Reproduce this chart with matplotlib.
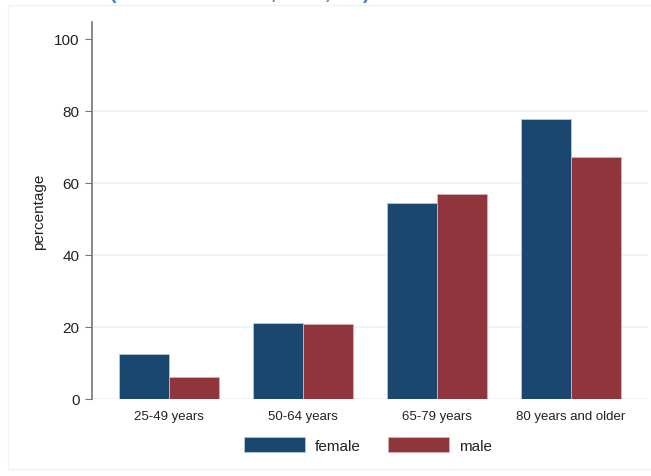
import matplotlib
matplotlib.use('Agg')
from matplotlib import pyplot as plt
from matplotlib.patches import Rectangle
import numpy as np

plt.rcParams['font.family'] = ['Liberation Sans', 'DejaVu Sans']

# data
age_groups = ['25-49 years', '50-64 years', '65-79 years', '80 years and older']
female = [12.5, 21.1, 54.4, 77.7]
male = [6.1, 20.7, 56.9, 67.3]
y_ticks = [0, 20, 40, 60, 80, 100]

female_color = '#1a476f'
male_color = '#90353b'
text_color = '#222222'

fig = plt.figure(figsize=(6.51, 4.77), dpi=100)
ax = fig.add_axes([92 / 651, 77 / 477, 556 / 651, 377 / 477])

x = np.arange(len(age_groups))
w = 0.375
ax.bar(x - w / 2, female, w, color=female_color, edgecolor='#b8c6d4', linewidth=0.6, label='female', zorder=3)
ax.bar(x + w / 2, male, w, color=male_color, edgecolor='#d9b3b6', linewidth=0.6, label='male', zorder=3)

ax.set_xlim(-0.575, 3.575)
ax.set_ylim(0, 104.7)
ax.set_xticks(x)
ax.set_xticklabels(age_groups, fontsize=9.5, color=text_color)
ax.tick_params(axis='x', length=0, pad=8)
ax.set_yticks(y_ticks)
ax.tick_params(axis='y', labelsize=11, labelcolor=text_color, length=5, width=0.8, color='#777777', pad=4)
ax.set_ylabel('percentage', fontsize=11, color=text_color, labelpad=6)

for v in [0, 20, 40, 60, 80]:
    ax.axhline(v, color='#eaf2f3', linewidth=1.2, zorder=1)

for s in ['top', 'right', 'bottom']:
    ax.spines[s].set_visible(False)
ax.spines['left'].set_color('#777777')
ax.spines['left'].set_linewidth(1.2)

handles, labels = ax.get_legend_handles_labels()
fig.legend(handles, labels, loc='center', bbox_to_anchor=(368 / 651, 1 - 446 / 477),
           ncol=2, frameon=False, fontsize=11, handlelength=4.0, handleheight=1.05,
           handletextpad=0.65, columnspacing=1.75, labelcolor=text_color)

# faint outer frame
fig.patches.append(Rectangle((8 / 651, 7 / 477), 650 / 651, 464 / 477, transform=fig.transFigure,
                             fill=False, edgecolor='#f3f3f3', linewidth=1))

# title cut off at the top of the image, only the lowest strokes show
fig.text(110 / 651, 1.0 + 1 / 477, '(Women and Men, 2018, EU)', color='#4a7ebb',
         fontsize=14, fontweight='bold', va='baseline', ha='left')

fig.savefig('out.png', dpi=100, facecolor='white')
